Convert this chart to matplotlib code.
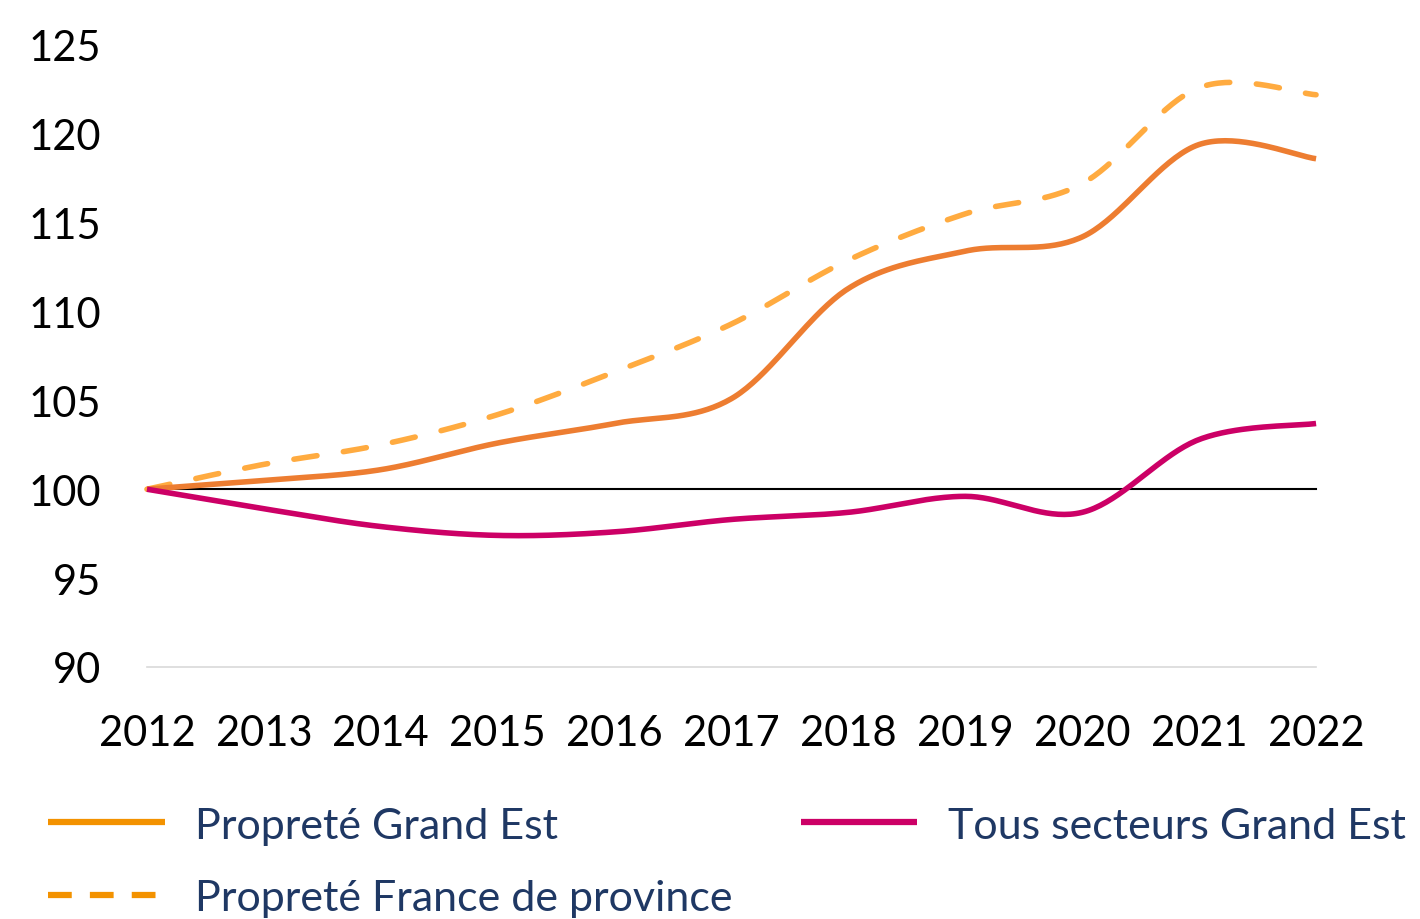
import numpy as np
import matplotlib.pyplot as plt
from matplotlib.lines import Line2D

# -----------------------------
# data (indice base 100 en 2012)
# -----------------------------
years = [2012, 2013, 2014, 2015, 2016, 2017, 2018, 2019, 2020, 2021, 2022]
proprete_ge = [100, 100.5, 101.1, 102.6, 103.7, 105.1, 111.3, 113.4, 114.2, 119.4, 118.6]
proprete_fp = [100, 101.4, 102.5, 104.2, 106.6, 109.3, 112.9, 115.5, 117.2, 122.6, 122.2]
tous_ge = [100, 98.9, 97.9, 97.4, 97.6, 98.3, 98.7, 99.6, 98.7, 102.8, 103.7]

labels = ["Propreté Grand Est", "Propreté France de province", "Tous secteurs Grand Est"]
yticks = [90, 95, 100, 105, 110, 115, 120, 125]

c_ge = "#ED7D31"
c_fp = "#FFAB40"
c_tous = "#CC0066"
c_leg = "#F39200"
c_txt = "#1F3864"


def smooth(x, y, n=40):
    # bezier smoothing like a spreadsheet "smoothed line"
    x = np.asarray(x, float)
    y = np.asarray(y, float)
    px = np.concatenate([[x[0]], x, [x[-1]]])
    py = np.concatenate([[y[0]], y, [y[-1]]])
    xs, ys = [], []
    t = np.linspace(0, 1, n)
    for i in range(len(x) - 1):
        p0 = np.array([px[i + 1], py[i + 1]])
        p3 = np.array([px[i + 2], py[i + 2]])
        p1 = p0 + (np.array([px[i + 2], py[i + 2]]) - np.array([px[i], py[i]])) / 6
        p2 = p3 - (np.array([px[i + 3], py[i + 3]]) - np.array([px[i + 1], py[i + 1]])) / 6
        b = ((1 - t) ** 3)[:, None] * p0 + (3 * (1 - t) ** 2 * t)[:, None] * p1 \
            + (3 * (1 - t) * t ** 2)[:, None] * p2 + (t ** 3)[:, None] * p3
        xs.extend(b[:, 0])
        ys.extend(b[:, 1])
    return xs, ys


plt.rcParams['font.family'] = ['Lato', 'DejaVu Sans']

fig = plt.figure(figsize=(14.2, 9.2), dpi=100)
ax = fig.add_axes([0.1035, 0.274, 0.8233, 0.676])

ax.axhline(100, color="black", lw=1.5, zorder=1)

x, y = smooth(years, proprete_fp)
ax.plot(x, y, color=c_fp, lw=4, ls=(0, (4.2, 4.8)), dash_capstyle="round", zorder=2)
x, y = smooth(years, proprete_ge)
ax.plot(x, y, color=c_ge, lw=4, solid_capstyle="butt", zorder=3)
x, y = smooth(years, tous_ge)
ax.plot(x, y, color=c_tous, lw=4, solid_capstyle="butt", zorder=4)

ax.set_xlim(years[0], years[-1])
ax.set_ylim(90, 125)
ax.set_yticks(yticks)
ax.set_xticks(years)
ax.tick_params(length=0, labelsize=30)
ax.tick_params(axis="x", pad=34)
ax.tick_params(axis="y", pad=33)
for s in ["top", "right", "left"]:
    ax.spines[s].set_visible(False)
ax.spines["bottom"].set_color("#D9D9D9")
ax.spines["bottom"].set_linewidth(1.2)
for ln in ax.lines:
    ln.set_clip_on(False)

handles = [
    Line2D([], [], color=c_leg, lw=4.5, solid_capstyle="butt"),
    Line2D([], [], color=c_leg, lw=4.5, ls=(0, (3.8, 2.9)), dash_capstyle="butt"),
    Line2D([], [], color=c_tous, lw=4.5, solid_capstyle="butt"),
]
leg = fig.legend(handles, labels, ncol=2, loc="upper left",
                 bbox_to_anchor=(0.022, 0.141), frameon=False, fontsize=31,
                 handlelength=2.7, handletextpad=0.7, columnspacing=1.6,
                 labelspacing=0.8, borderaxespad=0)
for t in leg.get_texts():
    t.set_color(c_txt)

fig.savefig("out.png", dpi=100)
